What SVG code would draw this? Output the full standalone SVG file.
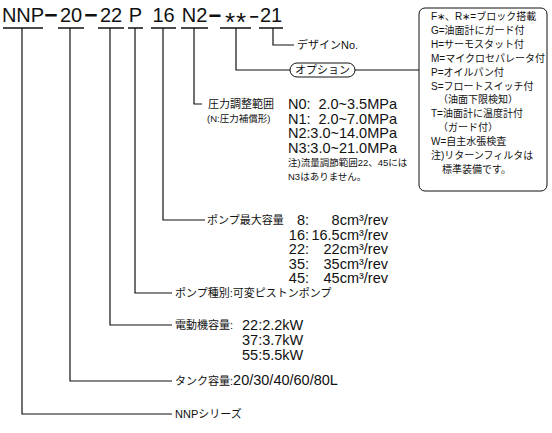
<svg xmlns="http://www.w3.org/2000/svg" width="552" height="433" viewBox="0 0 552 433">
<style>
.t{font-family:"Liberation Sans","Noto Sans CJK JP",sans-serif;font-size:20px;fill:#111;text-anchor:middle}
.d{font-family:"Liberation Sans",sans-serif;font-size:23px;font-weight:bold;fill:#111;text-anchor:middle}
.a{font-family:"Liberation Sans",sans-serif;font-size:26px;fill:#111;text-anchor:middle;letter-spacing:1px}
.j{font-family:"Liberation Sans","Noto Sans CJK JP",sans-serif;font-size:11px;fill:#111}
.s{font-family:"Liberation Sans","Noto Sans CJK JP",sans-serif;font-size:9.5px;fill:#111}
.b{font-family:"Liberation Sans","Noto Sans CJK JP",sans-serif;font-size:10px;fill:#111}
.n{font-family:"Liberation Sans",sans-serif;font-size:14.5px;fill:#111}
.ne{font-family:"Liberation Sans",sans-serif;font-size:14.5px;fill:#111;text-anchor:end}
.l{fill:none;stroke:#111;stroke-width:1.2}
.u{fill:none;stroke:#111;stroke-width:1.6}
</style>
<g id="code">
<text class="t" x="23" y="22">NNP</text>
<text class="d" x="51" y="22.5">−</text>
<text class="t" x="71" y="22">20</text>
<text class="d" x="91" y="22.5">−</text>
<text class="t" x="111" y="22">22</text>
<text class="t" x="135.5" y="22">P</text>
<text class="t" x="163.5" y="22">16</text>
<text class="t" x="194.5" y="22">N2</text>
<text class="d" x="215" y="22.5" style="font-size:22px">−</text>
<text class="a" x="236" y="31">**</text>
<text class="d" x="254" y="21.5" style="font-size:16px">−</text>
<text class="t" x="271" y="22">21</text>
<path class="u" d="M3 28H43M58 28H84M98 28H124M128 28H143M151 28H176M181 28H208M220 28H251M259 28H283"/>
</g>
<g id="connectors">
<path class="l" d="M273 28V45H294"/>
<path class="l" d="M236 28V70H290M355 70H419"/>
<path class="l" d="M194 28V104H202"/>
<path class="l" d="M163 28V220H205"/>
<path class="l" d="M135 28V293H172"/>
<path class="l" d="M110 28V325H172"/>
<path class="l" d="M70 28V381H172"/>
<path class="l" d="M22 28V414H172"/>
</g>
<g id="design">
<text class="j" x="297" y="49">デザインNo.</text>
</g>
<g id="option">
<rect x="290" y="63" width="65" height="14" rx="7" fill="none" stroke="#111" stroke-width="1"/>
<text class="j" x="322.5" y="74" text-anchor="middle">オプション</text>
</g>
<g id="option-box">
<rect x="419" y="8" width="128" height="183" rx="6" fill="none" stroke="#111" stroke-width="1"/>
<text class="b" x="431" y="20">F∗、R∗=ブロック搭載</text>
<text class="b" x="431" y="33.9">G=油面計にガード付</text>
<text class="b" x="431" y="47.8">H=サーモスタット付</text>
<text class="b" x="431" y="61.7">M=マイクロセパレータ付</text>
<text class="b" x="431" y="75.6">P=オイルパン付</text>
<text class="b" x="431" y="89.5">S=フロートスイッチ付</text>
<text class="b" x="438" y="103.4">（油面下限検知）</text>
<text class="b" x="431" y="117.3">T=油面計に温度計付</text>
<text class="b" x="438" y="131.2">（ガード付）</text>
<text class="b" x="431" y="145.1">W=自主水張検査</text>
<text class="b" x="431" y="159">注)リターンフィルタは</text>
<text class="b" x="442" y="172.9">標準装備です。</text>
</g>
<g id="pressure">
<text class="j" x="208" y="108">圧力調整範囲</text>
<text class="s" x="207" y="122">(N:圧力補償形)</text>
<text class="n" x="288" y="109">N0:</text>
<text class="ne" x="397" y="109">2.0~3.5MPa</text>
<text class="n" x="288" y="123.5">N1:</text>
<text class="ne" x="397" y="123.5">2.0~7.0MPa</text>
<text class="n" x="288" y="138">N2:</text>
<text class="ne" x="397" y="138">3.0~14.0MPa</text>
<text class="n" x="288" y="152.5">N3:</text>
<text class="ne" x="397" y="152.5">3.0~21.0MPa</text>
<text class="s" x="288" y="166">注)流量調節範囲22、45には</text>
<text class="s" x="288" y="180">N3はありません。</text>
</g>
<g id="pump-capacity">
<text class="j" x="207" y="224">ポンプ最大容量</text>
<text class="ne" x="309" y="225">8:</text>
<text class="ne" x="388" y="225">8cm³/rev</text>
<text class="ne" x="309" y="239.5">16:</text>
<text class="ne" x="388" y="239.5">16.5cm³/rev</text>
<text class="ne" x="309" y="254">22:</text>
<text class="ne" x="388" y="254">22cm³/rev</text>
<text class="ne" x="309" y="268.5">35:</text>
<text class="ne" x="388" y="268.5">35cm³/rev</text>
<text class="ne" x="309" y="283">45:</text>
<text class="ne" x="388" y="283">45cm³/rev</text>
</g>
<g id="pump-type">
<text class="j" x="175" y="297">ポンプ種別:可変ピストンポンプ</text>
</g>
<g id="motor">
<text class="j" x="175" y="329">電動機容量:</text>
<text class="n" x="242" y="330">22:2.2kW</text>
<text class="n" x="242" y="345">37:3.7kW</text>
<text class="n" x="242" y="360">55:5.5kW</text>
</g>
<g id="tank">
<text class="j" x="175" y="385">タンク容量:<tspan class="n">20/30/40/60/80L</tspan></text>
</g>
<g id="series">
<text class="j" x="175" y="418">NNPシリーズ</text>
</g>
</svg>
